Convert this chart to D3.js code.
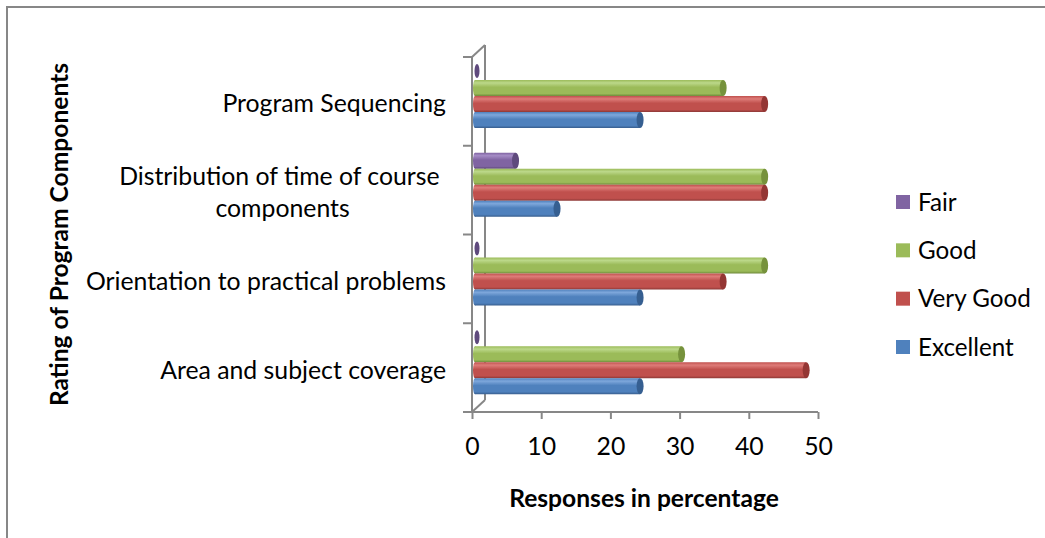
<!DOCTYPE html>
<html>
<head>
<meta charset="utf-8">
<script src="https://cdn.jsdelivr.net/npm/d3@7"></script>
<style>
  html, body { margin: 0; padding: 0; background: #fff; }
  svg { display: block; }
  text { font-family: Lato, "Liberation Sans", sans-serif; fill: #000; }
</style>
</head>
<body>
<svg id="chart" width="1045" height="538"></svg>
<script>
// ---- data ----
const categories = [
  "Program Sequencing",
  "Distribution of time of course components",
  "Orientation to practical problems",
  "Area and subject coverage"
];
const categoryLines = [
  ["Program Sequencing"],
  ["Distribution of time of course ", "components"],
  ["Orientation to practical problems"],
  ["Area and subject coverage"]
];
const seriesNames = ["Fair", "Good", "Very Good", "Excellent"];
const fair      = [0, 6, 0, 0];
const good      = [36, 42, 42, 30];
const veryGood  = [42, 42, 36, 48];
const excellent = [24, 12, 24, 24];
const xTicks = [0, 10, 20, 30, 40, 50];
const xTitle = "Responses in percentage";
const yTitle = "Rating of Program Components";
const colors = {
  "Fair":      { base: "#8064A2", light: "#a58cc6", dark: "#5c4778", cap: "#5f4a7d" },
  "Good":      { base: "#9BBB59", light: "#bcd88a", dark: "#6f8a3b", cap: "#76923c" },
  "Very Good": { base: "#C0504D", light: "#de7c79", dark: "#8c3836", cap: "#943634" },
  "Excellent": { base: "#4F81BD", light: "#7ea7db", dark: "#375d8d", cap: "#365f91" }
};
const seriesValues = { "Fair": fair, "Good": good, "Very Good": veryGood, "Excellent": excellent };

// ---- layout ----
const svg = d3.select("#chart");
const gray = "#878787";
const labelFont = "24.8px";
const legendFont = "24.2px";
const titleFont = "24.6px";

// frame border
svg.append("rect").attr("x", 7).attr("y", 7).attr("width", 1100).attr("height", 600)
  .attr("fill", "none").attr("stroke", gray).attr("stroke-width", 2);

const plotTop = 57, plotBottom = 412;
const x = d3.scaleLinear().domain([0, 50]).range([472, 818]);
const depth = { dx: 13, dy: -12 };
const barShift = 2;
const xb = d3.scaleLinear().domain([0, 50]).range([472 + barShift, 818 + barShift]);

const y = d3.scaleBand().domain(categories).range([plotTop, plotBottom]).paddingInner(0).paddingOuter(0);
const inner = d3.scaleBand().domain(seriesNames).range([7, 71]);

// gradients
const defs = svg.append("defs");
seriesNames.forEach((s, i) => {
  const c = colors[s];
  const g = defs.append("linearGradient").attr("id", "grad" + i)
    .attr("x1", 0).attr("y1", 0).attr("x2", 0).attr("y2", 1);
  g.append("stop").attr("offset", "0%").attr("stop-color", c.base);
  g.append("stop").attr("offset", "18%").attr("stop-color", c.light);
  g.append("stop").attr("offset", "45%").attr("stop-color", c.base);
  g.append("stop").attr("offset", "85%").attr("stop-color", c.base);
  g.append("stop").attr("offset", "100%").attr("stop-color", c.dark);
});

// 3D walls / axes
const axes = svg.append("g").attr("stroke", gray).attr("stroke-width", 2).attr("fill", "none");
axes.append("line").attr("x1", x(0) + depth.dx).attr("x2", x(0) + depth.dx)
  .attr("y1", plotTop + depth.dy).attr("y2", plotBottom + depth.dy);
axes.append("line").attr("x1", x(0)).attr("y1", plotTop)
  .attr("x2", x(0) + depth.dx).attr("y2", plotTop + depth.dy);
axes.append("line").attr("x1", x(0)).attr("y1", plotBottom)
  .attr("x2", x(0) + depth.dx).attr("y2", plotBottom + depth.dy);
axes.append("line").attr("x1", x(0)).attr("x2", x(0)).attr("y1", plotTop).attr("y2", plotBottom);
const bounds = categories.map(c => y(c)).concat([plotBottom]);
bounds.forEach(b => {
  axes.append("line").attr("x1", x(0) - 9).attr("x2", x(0)).attr("y1", b).attr("y2", b);
});

// x axis
const xAxis = d3.axisBottom(x).tickValues(xTicks).tickSize(7).tickSizeOuter(0).tickPadding(0);
const xg = svg.append("g").attr("transform", `translate(0,${plotBottom})`).call(xAxis);
xg.select(".domain").attr("stroke", gray).attr("stroke-width", 2)
  .attr("d", `M${x(0) - 9},0H${x(50)}`);
xg.selectAll(".tick line").attr("stroke", gray).attr("stroke-width", 2);
xg.selectAll(".tick text").attr("y", 43).attr("dy", 0)
  .style("font-family", "Lato, sans-serif").style("font-size", labelFont).attr("fill", "#000");

// bars
const groups = svg.append("g").selectAll("g").data(categories).join("g")
  .attr("transform", c => `translate(0,${y(c)})`);

seriesNames.forEach((s, si) => {
  const c = colors[s];
  const vals = seriesValues[s];
  const h = inner.bandwidth();
  categories.forEach((cat, ci) => {
    const v = vals[ci];
    const g = groups.filter(d => d === cat);
    const y0 = inner(s);
    if (v > 0) {
      g.append("ellipse").attr("cx", xb(0) + 1).attr("cy", y0 + h / 2)
        .attr("rx", 2).attr("ry", h / 2).attr("fill", `url(#grad${si})`);
      g.append("rect").attr("x", xb(0) + 1).attr("y", y0)
        .attr("width", xb(v) - xb(0) - 1).attr("height", h)
        .attr("fill", `url(#grad${si})`);
      g.append("ellipse").attr("cx", xb(v)).attr("cy", y0 + h / 2)
        .attr("rx", 3.5).attr("ry", h / 2).attr("fill", c.cap);
    } else {
      g.append("ellipse").attr("cx", xb(0) + 3).attr("cy", y0 + h / 2 - 1)
        .attr("rx", 2.5).attr("ry", h / 2 - 1).attr("fill", c.cap);
    }
  });
});

// category labels
const labelRight = 446;
categories.forEach((cat, ci) => {
  const lines = categoryLines[ci];
  const cy = y(cat) + y.bandwidth() / 2 + 2;
  const lh = 32;
  if (lines.length === 1) {
    svg.append("text").attr("x", labelRight).attr("y", cy + 9)
      .attr("text-anchor", "end").style("font-size", labelFont).text(lines[0]);
  } else {
    const t = svg.append("text").style("font-size", labelFont).style("white-space", "pre")
      .attr("text-anchor", "middle");
    const tmp = svg.append("text").style("font-size", labelFont).style("white-space", "pre").text(lines[0]);
    const w = tmp.node().getComputedTextLength();
    tmp.remove();
    const cx = labelRight - w / 2;
    lines.forEach((ln, li) => {
      t.append("tspan").attr("x", cx)
        .attr("y", cy + 9 + (li - (lines.length - 1) / 2) * lh).text(ln);
    });
  }
});

// axis titles
svg.append("text").attr("x", (x(0) + x(50)) / 2 - 1).attr("y", 507)
  .attr("text-anchor", "middle").style("font-size", titleFont).style("font-weight", "bold").text(xTitle);
svg.append("text").attr("transform", `translate(68,${(plotTop + plotBottom) / 2}) rotate(-90)`)
  .attr("text-anchor", "middle").style("font-size", titleFont).style("font-weight", "bold").text(yTitle);

// legend
const legendY = d3.scalePoint().domain(seriesNames).range([202, 347]);
const lg = svg.append("g").selectAll("g").data(seriesNames).join("g")
  .attr("transform", s => `translate(896,${legendY(s)})`);
lg.append("rect").attr("x", 0).attr("y", -7).attr("width", 14).attr("height", 14)
  .attr("fill", s => colors[s].base);
lg.append("text").attr("x", 22).attr("y", 8.5).style("font-size", legendFont).text(s => s);
</script>
</body>
</html>
